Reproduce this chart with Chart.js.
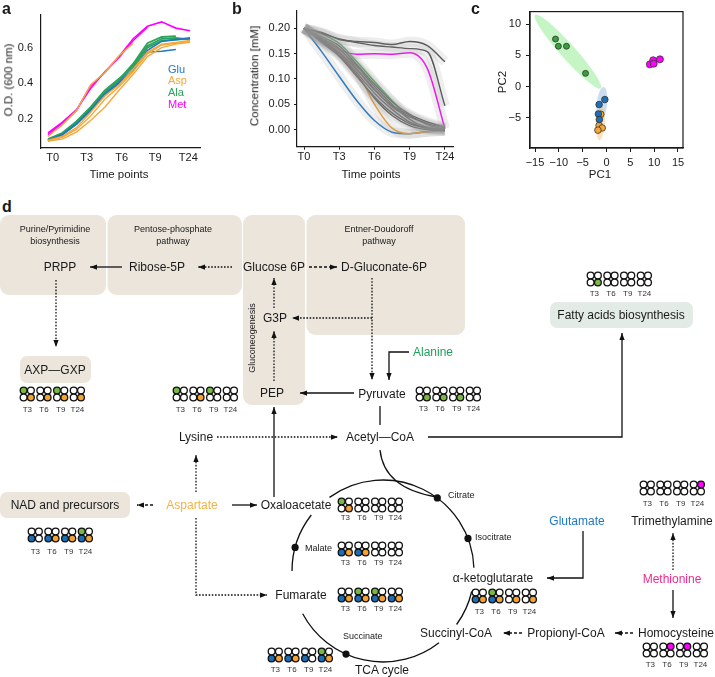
<!DOCTYPE html>
<html><head><meta charset="utf-8">
<script src="https://cdn.jsdelivr.net/npm/chart.js@4.4.1/dist/chart.umd.min.js"></script>
<style>
body{margin:0;background:#fff;}
#wrap{position:relative;width:715px;height:677px;overflow:hidden;font-family:"Liberation Sans",Arial,Helvetica,sans-serif;color:#1a1a1a;background:#fff;}
canvas{position:absolute;}
.t{position:absolute;white-space:nowrap;line-height:1;}
.lab{font-weight:bold;font-size:16px;}
.ttl{font-size:11.5px;transform:translate(-50%,-50%);}
.rot{transform:translate(-50%,-50%) rotate(-90deg);}
.leg{font-size:11px;transform:translate(0,-50%);}
svg{position:absolute;left:0;top:0;}
</style></head><body><div id="wrap">
<canvas id="cA" width="215" height="185" style="left:0;top:0"></canvas>
<canvas id="cB" width="240" height="185" style="left:230px;top:0"></canvas>
<canvas id="cC" width="245" height="185" style="left:470px;top:0"></canvas>
<div class="t lab" style="left:2px;top:1px">a</div>
<div class="t lab" style="left:232px;top:1px">b</div>
<div class="t lab" style="left:471px;top:1px">c</div>
<div class="t lab" style="left:2px;top:199px">d</div>
<div class="t ttl rot" style="left:9px;top:80px">O.D. (600 nm)</div>
<div class="t ttl" style="left:119px;top:175px">Time points</div>
<div class="t ttl rot" style="left:255px;top:76px">Concentration [mM]</div>
<div class="t ttl" style="left:371px;top:175px">Time points</div>
<div class="t ttl rot" style="left:503px;top:82px">PC2</div>
<div class="t ttl" style="left:600px;top:175px">PC1</div>
<div class="t leg" style="left:168px;top:69px;color:#1f77c4">Glu</div>
<div class="t leg" style="left:168px;top:80px;color:#f6a83a">Asp</div>
<div class="t leg" style="left:168px;top:92px;color:#2ca25a">Ala</div>
<div class="t leg" style="left:168px;top:104px;color:#ff00ff">Met</div>
<svg id="dg" width="715" height="677"></svg>
</div>
<script>
// ---------- Panel a: growth curves ----------
const timeA=[0,1,2,3,4,5,6,7,8,9,10];
const tickPosA=[0.33,2.73,5.19,7.54,9.88];
const tickLabels=['T0','T3','T6','T9','T24'];
const metA1=[0.11,0.175,0.245,0.385,0.46,0.55,0.65,0.72,0.745,0.71,0.695];
const metA2=[0.12,0.18,0.25,0.37,0.465,0.545,0.64,0.715];
const aspA1=[0.10,0.165,0.245,0.39,0.46,0.555,0.625];
const aspA2=[0.075,0.085,0.125,0.19,0.265,0.36,0.45,0.55,0.60,0.62,0.63];
const aspA3=[0.075,0.095,0.14,0.215,0.31,0.38,0.465,0.565,0.615,0.625,0.635];
const aspA4=[0.08,0.10,0.15,0.235,0.33,0.39,0.48,0.575,0.62,0.63,0.64];
const gluA1=[0.078,0.11,0.17,0.245,0.33,0.40,0.475,0.585,0.635,0.645,0.655];
const gluA2=[0.08,0.11,0.17,0.25,0.34,0.405,0.48,0.575,0.58,0.59];
const alaA1=[0.08,0.115,0.18,0.26,0.355,0.42,0.51,0.625,0.66,0.665];
const alaA2=[0.075,0.11,0.17,0.25,0.345,0.41,0.50,0.61,0.65,0.655,0.645];
const alaA3=[0.085,0.12,0.185,0.265,0.36,0.425,0.49,0.60,0.64,0.645,0.65];

// ---------- Panel b: concentrations ----------
const timeB=[0,0.5,1,1.5,2,2.5,3,3.5,4];
const gluB=[0.20,0.154,0.105,0.057,0.018,-0.005,-0.008,-0.004,-0.002];
const aspB=[0.20,0.18,0.154,0.115,0.05,0.003,-0.008,-0.004,-0.002];
const alaB=[0.20,0.189,0.17,0.134,0.095,0.057,0.021,0.001,0.000];
const metB=[0.20,0.176,0.157,0.149,0.150,0.149,0.152,0.121,0.002];
const otherB1=[0.20,0.192,0.178,0.174,0.172,0.168,0.174,0.166,0.134];
const otherB2=[0.20,0.19,0.179,0.172,0.166,0.163,0.160,0.154,0.047];
const otherB3=[0.20,0.178,0.158,0.125,0.085,0.05,0.02,0.005,0.000];
const otherB4=[0.20,0.175,0.150,0.112,0.072,0.04,0.015,0.003,0.000];
const otherB5=[0.20,0.172,0.145,0.105,0.065,0.033,0.012,0.004,0.002];
const otherB6=[0.20,0.18,0.16,0.12,0.08,0.045,0.025,0.012,0.003];
const otherB7=[0.20,0.177,0.152,0.118,0.078,0.048,0.028,0.01,0.000];
const otherB8=[0.20,0.183,0.165,0.128,0.09,0.055,0.03,0.015,0.005];
const otherB9=[0.20,0.174,0.148,0.108,0.062,0.028,0.008,0.0,-0.002];

// ---------- Panel c: PCA ----------
const alaPC1=[-10.7,-10.1,-8.4,-4.4], alaPC2=[7.6,6.45,6.45,2.1];
const gluPC1=[-0.35,-1.55,-1.7,-1.5], gluPC2=[-2.1,-2.9,-4.4,-5.3];
const aspPC1=[-1.2,-1.55,-0.9,-1.8], aspPC2=[-4.45,-6.25,-6.65,-7.0];
const metPC1=[9.1,9.8,9.9,11.2], metPC2=[3.55,4.2,3.65,4.35];
// ellipses: [centerPC1, centerPC2, semiAxisPC1, semiAxisPC2, minor/major ratio]
const ellAla=[-8.1,5.6,6.9,-5.9,0.15];
const ellGlu=[-1.0,-2.9,0.4,2.8,0.3];
const ellAsp=[-1.25,-5.95,0.25,2.65,0.26];
const ellMet=[10.2,3.9,2.0,0.8,0.35];

// ---------- Panel d: dot grids (TL=Ala g, TR=Met m, BL=Glu b, BR=Asp o) ----------
const dotTimes=['T3','T6','T9','T24'];
const dotsFatty=['---g','----','----','----'];
const dotsAXP=['g--o','---o','g--o','---o'];
const dotsPEP=['g---','---o','g---','----'];
const dotsPyruvate=['---g','---g','---g','----'];
const dotsNAD=['--b-','--bo','--bo','g-bo'];
const dotsOxalo=['g--o','----','----','----'];
const dotsMalate=['--bo','--bo','----','----'];
const dotsFumarate=['--bo','g-bo','g-bo','--bo'];
const dotsSuccinate=['--bo','--bo','--b-','g-bo'];
const dotsAKG=['--bo','g-bo','---o','---o'];
const dotsTMA=['----','----','----','-m--'];
const dotsHomocys=['----','-m--','-m--','----'];

const INK='#1a1a1a';
const FONT={family:'"Liberation Sans", Arial, sans-serif',size:11};
function pts(xs,ys){const o=[];ys.forEach((v,i)=>{if(v!==null&&v!==undefined)o.push({x:xs[i],y:v});});return o;}
function line(data,color,w){return {data:data,borderColor:color,borderWidth:w,pointRadius:0,fill:false,tension:0};}
const noGrid={display:false,drawTicks:false};

const cA=new Chart(document.getElementById('cA'),{
 type:'line',
 data:{datasets:[
  line(pts(timeA,aspA2),'#f6a83a',1.4),line(pts(timeA,aspA3),'#f6a83a',1.4),line(pts(timeA,aspA4),'#f6a83a',1.4),
  line(pts(timeA,gluA1),'#1f77c4',1.6),line(pts(timeA,gluA2),'#1f77c4',1.4),
  line(pts(timeA,alaA1),'#2ca25a',1.8),line(pts(timeA,alaA2),'#2ca25a',1.8),line(pts(timeA,alaA3),'#2ca25a',1.8),
  line(pts(timeA,aspA1),'#f6a83a',1.5),
  line(pts(timeA,metA2),'#ff00ff',1.5),line(pts(timeA,metA1),'#ff00ff',1.6)
 ]},
 options:{responsive:false,animation:false,devicePixelRatio:1,
  layout:{autoPadding:false,padding:{left:0,top:8,right:15,bottom:0}},
  plugins:{legend:{display:false},tooltip:{enabled:false}},
  scales:{
   x:{type:'linear',min:-0.49,max:10.7,
    afterBuildTicks:s=>{s.ticks=tickPosA.map(v=>({value:v}));},
    ticks:{callback:(v,i)=>tickLabels[i],font:FONT,color:INK,padding:3,maxRotation:0,autoSkip:false},
    grid:noGrid,border:{display:true,color:INK,width:1.2},
    afterFit:s=>{s.height=37;}},
   y:{type:'linear',min:0.0354,max:0.786,
    afterBuildTicks:s=>{s.ticks=[0.2,0.4,0.6].map(v=>({value:v}));},
    ticks:{callback:v=>v.toFixed(1),font:FONT,color:INK,padding:8},
    grid:noGrid,border:{display:true,color:INK,width:1.2},
    afterFit:s=>{s.width=41;}}
  }}
});

function band(data){return {data:data,borderColor:'rgba(150,150,150,0.16)',borderWidth:10,pointRadius:0,fill:false,cubicInterpolationMode:'monotone'};}
function curve(data,color,w){return {data:data,borderColor:color,borderWidth:w,pointRadius:0,fill:false,cubicInterpolationMode:'monotone'};}
const seriesB=[otherB1,otherB2,otherB3,otherB4,otherB5,otherB6,otherB7,otherB8,otherB9,gluB,aspB,alaB,metB];
const dsB=seriesB.map(s=>band(pts(timeB,s)));
[otherB1,otherB2,otherB3,otherB4,otherB5,otherB6,otherB7,otherB8,otherB9].forEach(s=>dsB.push(curve(pts(timeB,s),'#4d4d4d',1.4)));
dsB.push(curve(pts(timeB,alaB),'#3cb04a',1.5));
dsB.push(curve(pts(timeB,aspB),'#f2a02e',1.5));
dsB.push(curve(pts(timeB,gluB),'#1f77c4',1.5));
dsB.push(curve(pts(timeB,metB),'#ff00ff',1.5));
const tickGrid={display:true,drawOnChartArea:false,drawTicks:true,tickLength:3,color:INK,lineWidth:1};
const cB=new Chart(document.getElementById('cB'),{
 type:'line',data:{datasets:dsB},
 options:{responsive:false,animation:false,devicePixelRatio:1,
  layout:{autoPadding:false,padding:{left:0,top:8,right:17,bottom:0}},
  plugins:{legend:{display:false},tooltip:{enabled:false}},
  scales:{
   x:{type:'linear',min:-0.2,max:4.23,
    afterBuildTicks:s=>{s.ticks=[0,1,2,3,4].map(v=>({value:v}));},
    ticks:{callback:(v,i)=>tickLabels[i],font:FONT,color:INK,padding:1,maxRotation:0,autoSkip:false},
    grid:tickGrid,border:{display:true,color:INK,width:1.2},
    afterFit:s=>{s.height=38.3;}},
   y:{type:'linear',min:-0.0337,max:0.235,
    afterBuildTicks:s=>{s.ticks=[0,0.05,0.1,0.15,0.2].map(v=>({value:v}));},
    ticks:{callback:v=>v.toFixed(2),font:FONT,color:INK,padding:4},
    grid:tickGrid,border:{display:true,color:INK,width:1.2},
    afterFit:s=>{s.width=67;}}
  }}
});

const ellipsePlugin={id:'ell',beforeDatasetsDraw(c){
 const xs=c.scales.x,ys=c.scales.y,ctx=c.ctx;
 [[ellAla,'rgba(140,235,140,0.5)'],[ellGlu,'rgba(120,165,215,0.38)'],[ellAsp,'rgba(245,190,110,0.45)'],[ellMet,'rgba(250,140,250,0.4)']].forEach(([e,col])=>{
  const px=xs.getPixelForValue(e[0]),py=ys.getPixelForValue(e[1]);
  const ux=xs.getPixelForValue(e[0]+e[2])-px,uy=ys.getPixelForValue(e[1]+e[3])-py;
  const L=Math.hypot(ux,uy),ang=Math.atan2(uy,ux);
  ctx.save();ctx.fillStyle=col;ctx.beginPath();ctx.ellipse(px,py,L,L*e[4],ang,0,Math.PI*2);ctx.fill();ctx.restore();
 });
}};
const boxPlugin={id:'box',afterDraw(c){const a=c.chartArea,x=c.ctx;x.save();x.strokeStyle=INK;x.lineWidth=1.2;x.strokeRect(a.left,a.top,a.right-a.left,a.bottom-a.top);x.restore();}};
function sc(xs,ys,col,r){return {data:pts(xs,ys),backgroundColor:col,borderColor:'#333',borderWidth:0.8,pointRadius:r};}
const tickGridC={display:true,drawOnChartArea:false,drawTicks:true,tickLength:4,color:INK,lineWidth:1};
const minus=v=>(v<0?'\u2212'+Math.abs(v):String(v));
const cC=new Chart(document.getElementById('cC'),{
 type:'scatter',
 data:{datasets:[sc(alaPC1,alaPC2,'#3a9e3a',3),sc(gluPC1,gluPC2,'#1f6fb4',3.3),sc(aspPC1,aspPC2,'#f4a636',3.3),sc(metPC1,metPC2,'#ff00ff',3.5)]},
 options:{responsive:false,animation:false,devicePixelRatio:1,
  layout:{autoPadding:false,padding:{left:0,top:10,right:32,bottom:0}},
  plugins:{legend:{display:false},tooltip:{enabled:false}},
  scales:{
   x:{type:'linear',min:-16.05,max:16.05,
    afterBuildTicks:s=>{s.ticks=[-15,-10,-5,0,5,10,15].map(v=>({value:v}));},
    ticks:{callback:v=>minus(v),font:FONT,color:INK,padding:4,maxRotation:0,autoSkip:false},
    grid:tickGridC,border:{display:true,color:INK,width:1.2},
    afterFit:s=>{s.height=37;}},
   y:{type:'linear',min:-9.86,max:12.0,
    afterBuildTicks:s=>{s.ticks=[-5,0,5,10].map(v=>({value:v}));},
    ticks:{callback:v=>minus(v),font:FONT,color:INK,padding:5},
    grid:tickGridC,border:{display:true,color:INK,width:1.2},
    afterFit:s=>{s.width=60;}}
  }},
 plugins:[ellipsePlugin,boxPlugin]
});

// ---------- Panel d: pathway diagram ----------
(function(){
 const F='font-family:Liberation Sans,Arial,sans-serif;';
 let s='<defs><marker id="ah" viewBox="0 0 8 6" refX="8" refY="3" markerWidth="7" markerHeight="5.5" markerUnits="userSpaceOnUse" orient="auto"><path d="M0,0 L8,3 L0,6 z" fill="#111"/></marker></defs>';
 s+='<style>.sol{stroke:#111;stroke-width:1.3;fill:none}.dt{stroke:#111;stroke-width:1.3;fill:none;stroke-dasharray:1.6 1.6}.ds{stroke:#111;stroke-width:1.3;fill:none;stroke-dasharray:3 2}.m{'+F+'font-size:12px;fill:#1a1a1a;text-anchor:middle;dominant-baseline:central}.sm{'+F+'font-size:9px;fill:#1a1a1a;text-anchor:middle;dominant-baseline:central}.tk{'+F+'font-size:8px;fill:#333;text-anchor:middle;dominant-baseline:central}</style>';
 const B='#ebe5dc';
 s+=`<rect x="0" y="215" width="106" height="80" rx="9" fill="${B}"/>`;
 s+=`<rect x="107.5" y="215" width="134.5" height="80" rx="9" fill="${B}"/>`;
 s+=`<rect x="243" y="215" width="62" height="190" rx="9" fill="${B}"/>`;
 s+=`<rect x="306.5" y="215" width="158.5" height="120" rx="9" fill="${B}"/>`;
 s+=`<rect x="20" y="356" width="71" height="27" rx="7" fill="${B}"/>`;
 s+=`<rect x="0" y="492" width="130" height="26" rx="7" fill="${B}"/>`;
 s+=`<rect x="550" y="302" width="143" height="26" rx="7" fill="#e3ebe6"/>`;
 const T=(x,y,txt,cls,extra)=>{s+=`<text x="${x}" y="${y}" class="${cls}" ${extra||''}>${txt}</text>`;};
 T(55,229,'Purine/Pyrimidine','sm');T(55,241,'biosynthesis','sm');
 T(173,229,'Pentose-phosphate','sm');T(173,241,'pathway','sm');
 T(379,229,'Entner-Doudoroff','sm');T(379,241,'pathway','sm');
 T(252,338,'Gluconeogenesis','sm','transform="rotate(-90 252 338)"');
 T(60,267,'PRPP','m');T(157,267,'Ribose-5P','m');T(274,267,'Glucose 6P','m');T(384,267,'D-Gluconate-6P','m');
 T(275,318,'G3P','m');T(272,393,'PEP','m');T(382,394,'Pyruvate','m');
 T(413,352,'Alanine','m','style="text-anchor:start;fill:#1fa35a"');
 T(380,437,'Acetyl\u2014CoA','m');T(621,315,'Fatty acids biosynthesis','m');
 T(55,370,'AXP\u2014GXP','m');T(196,437,'Lysine','m');
 T(65,505,'NAD and precursors','m');T(192,505,'Aspartate','m','style="fill:#f7b243"');
 T(296,505,'Oxaloacetate','m');T(301,595,'Fumarate','m');
 T(493,578,'\u03b1-ketoglutarate','m');T(577,521,'Glutamate','m','style="fill:#1f78c8"');
 T(672,521,'Trimethylamine','m');T(672,579,'Methionine','m','style="fill:#ee2a8c"');
 T(676,633,'Homocysteine','m');T(566,633,'Propionyl-CoA','m');T(456,633,'Succinyl-CoA','m');
 T(382,670,'TCA cycle','m');
 T(448,495,'Citrate','sm','style="text-anchor:start"');T(475,537,'Isocitrate','sm','style="text-anchor:start"');
 T(305,548,'Malate','sm','style="text-anchor:start"');T(343,636,'Succinate','sm','style="text-anchor:start"');
 const A=(d,c,head)=>{s+=`<path d="${d}" class="${c}" ${head===false?'':'marker-end="url(#ah)"'}/>`;};
 A('M122,267 L90,267','sol');A('M232,267 L198,267','dt');A('M309,267 L337,267','ds');
 A('M372,278 L372,380','dt');A('M372,318 L292,318','dt');
 A('M274,308 L274,278','dt');A('M274,381 L274,331','dt');
 A('M354,393 L300,393','sol');A('M409,352 L389,352 L389,380','sol');
 A('M380,406 L380,425','sol',false);A('M428,437 L622,437 L622,333','sol');
 A('M56,280 L56,347','dt');A('M217,437 L338,437','dt');A('M196,492 L196,455','dt');
 A('M274,497 L274,407','sol');A('M153,505 L137,505','ds');A('M232,505 L257,505','sol');
 A('M196,518 L196,595 L267,595','dt');
 A('M583,531 L583,578 L547,578','sol');A('M673,570 L673,533','dt');A('M673,590 L673,618','sol');
 A('M633,633 L615,633','ds');A('M522,633 L503,633','ds');
 // TCA circle
 const C={x:383,y:571,r:91};
 const P=a=>{const t=a*Math.PI/180;return [(C.x+C.r*Math.cos(t)).toFixed(1),(C.y+C.r*Math.sin(t)).toFixed(1)];};
 [[234,358],[373,396],[52,152],[180,218]].forEach(([a0,a1])=>{const p0=P(a0),p1=P(a1);s+=`<path d="M${p0[0]},${p0[1]} A${C.r},${C.r} 0 ${(a1-a0)>180?1:0} 1 ${p1[0]},${p1[1]}" class="sol"/>`;});
 A('M380,450 C383,478 405,492 437,497','sol',false);
 [306.6,339,195,114].forEach(a=>{const p=P(a);s+=`<circle cx="${p[0]}" cy="${p[1]}" r="3.6" fill="#111"/>`;});
 // dot grids
 const DC={g:'#79b843',m:'#ff00ff',b:'#1c6db4',o:'#f4a232','-':'#ffffff'};
 const grid=(codes,x0,yc,ly)=>{codes.forEach((c,i)=>{const gx=x0+i*16.7;
   const off=[[3.6,-3.5],[10.9,-3.5],[3.6,3.5],[10.9,3.5]];
   off.forEach((o,k)=>{s+=`<circle cx="${(gx+o[0]).toFixed(1)}" cy="${(yc+o[1]).toFixed(1)}" r="3.4" fill="${DC[c[k]]}" stroke="#111" stroke-width="1.3"/>`;});
   s+=`<text x="${(gx+7.3).toFixed(1)}" y="${ly}" class="tk">${dotTimes[i]}</text>`;});};
 grid(dotsFatty,587,279,293);grid(dotsAXP,20,394,409);grid(dotsPEP,173,394,409);grid(dotsPyruvate,416,394,408);
 grid(dotsNAD,28,535,551);grid(dotsOxalo,338,505,517);grid(dotsMalate,338,549,562);grid(dotsFumarate,338,595,608);
 grid(dotsSuccinate,268,655,669);grid(dotsAKG,472,596,611);grid(dotsTMA,640,488,503);grid(dotsHomocys,643,650,664);
 document.getElementById('dg').innerHTML=s;
})();
</script></body></html>
